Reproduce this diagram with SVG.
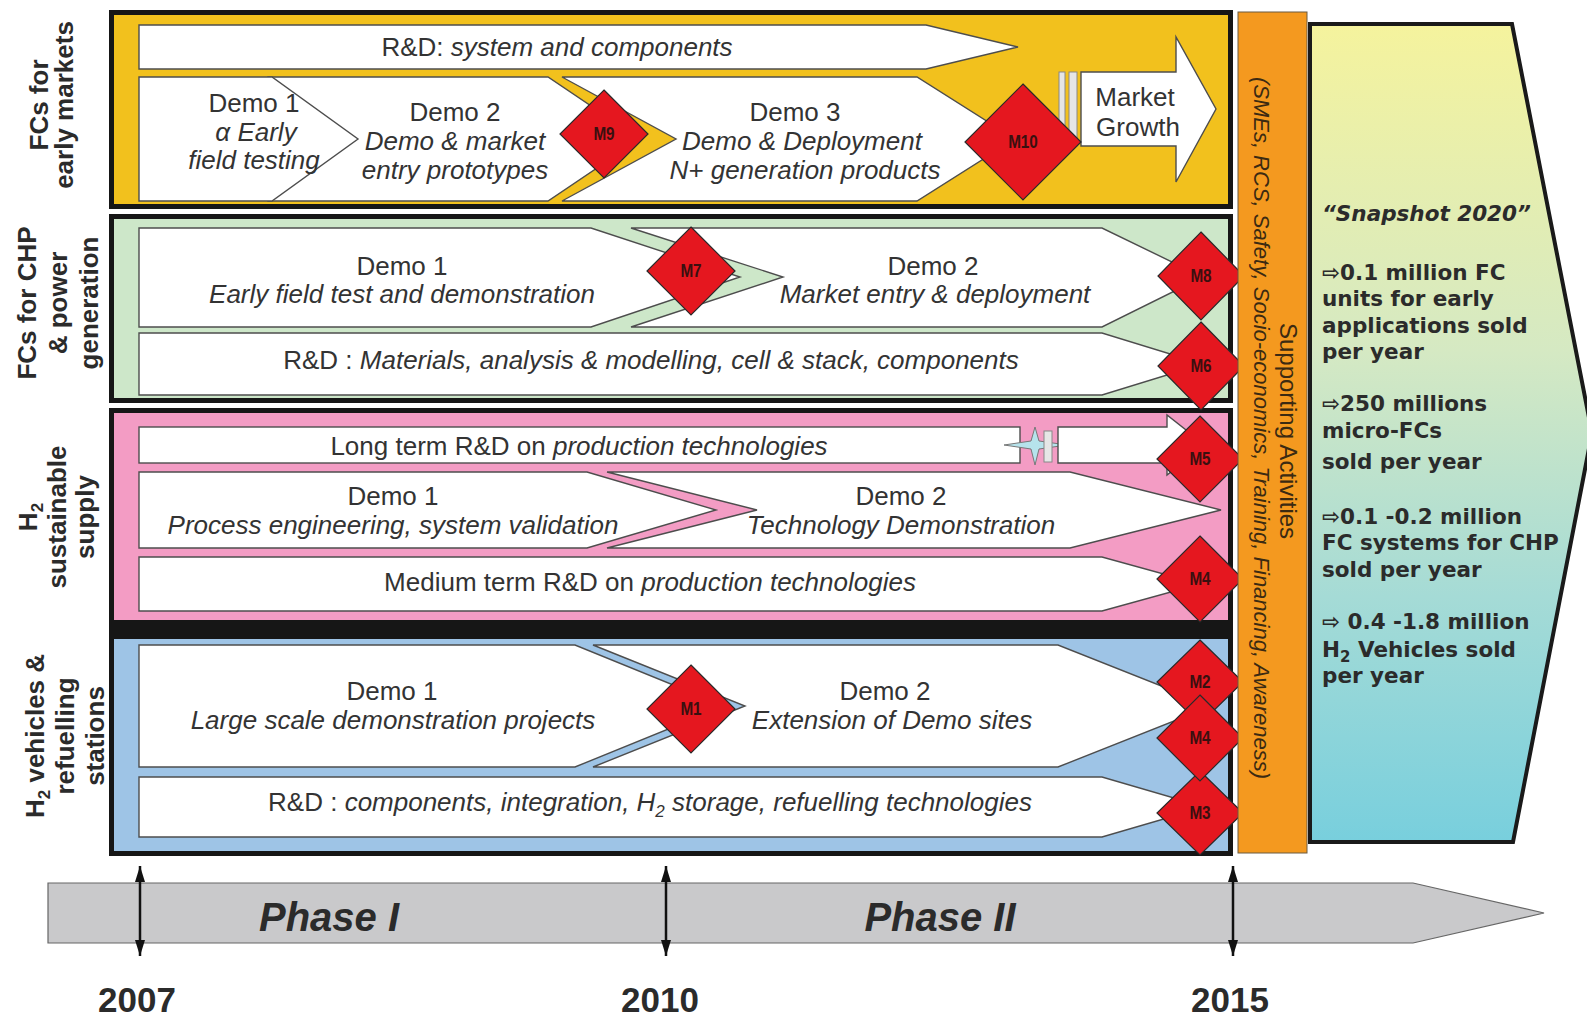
<svg xmlns="http://www.w3.org/2000/svg" width="1587" height="1019" viewBox="0 0 1587 1019">
<defs>
<style>
.frame{stroke:#161616;stroke-width:5}
.py{fill:#f2c11d}
.pg{fill:#cde7c9}
.pp{fill:#f39cc4}
.pb{fill:#9ec4e6}
.w{fill:#fff;stroke:#4d4d4d;stroke-width:1.4}
.d{fill:#e5171f;stroke:#2a2a2a;stroke-width:1.2}
.t{font-family:"Liberation Sans",Arial,sans-serif;font-size:26px;fill:#333;text-anchor:middle}
.i{font-style:italic}
.m{font-family:"Liberation Sans",Arial,sans-serif;font-size:18px;font-weight:bold;fill:#3a1010;text-anchor:middle}
.lab{font-family:"Liberation Sans",Arial,sans-serif;font-size:26px;font-weight:bold;fill:#2b2b2b;text-anchor:middle}
.s{font-family:"DejaVu Sans",Verdana,sans-serif;font-size:21.5px;font-weight:bold;fill:#2b2b2b}
.or{font-family:"Liberation Sans",Arial,sans-serif;fill:#3b2a12;text-anchor:middle}
.yr{font-family:"Liberation Sans",Arial,sans-serif;font-size:35px;font-weight:bold;fill:#2b2b2b;text-anchor:middle}
.ph{font-family:"Liberation Sans",Arial,sans-serif;font-size:40px;font-weight:bold;font-style:italic;fill:#2b2b2b;text-anchor:middle}
.brk{fill:#e6e6e6;stroke:#888;stroke-width:1}
.tl{stroke:#111;stroke-width:2.5;fill:none;marker-start:url(#ah);marker-end:url(#ah)}
</style>
<linearGradient id="snap" x1="0" y1="0" x2="0" y2="1">
<stop offset="0" stop-color="#f5f39d"/>
<stop offset="0.4" stop-color="#d5e9c3"/>
<stop offset="0.7" stop-color="#a5dbd6"/>
<stop offset="1" stop-color="#78cfdd"/>
</linearGradient>
<marker id="ah" viewBox="0 0 16 10" refX="16" refY="5" markerWidth="16" markerHeight="10" markerUnits="userSpaceOnUse" orient="auto-start-reverse">
<path d="M0,0 L16,5 L0,10 z" fill="#111"/>
</marker>
</defs>

<!-- Panel 1: FCs for early markets -->
<g id="panel-early-markets">
<rect class="frame py" x="111.5" y="12.5" width="1119" height="194"/>
<text class="lab" transform="translate(48,105) rotate(-90)">FCs  for</text>
<text class="lab" transform="translate(73,105) rotate(-90)">early markets</text>
<polygon class="w" points="139,25 926,25 1018,47 926,69 139,69"/>
<text class="t" x="557" y="56">R&amp;D: <tspan class="i">system and components</tspan></text>
<polygon class="w" points="268,77 548,77 640,139 548,201 268,201"/>
<polygon class="w" points="139,77 272,77 358,139 272,201 139,201"/>
<polygon class="w" points="562,77 917,77 1015,139 917,201 562,201 676,139"/>
<text class="t" x="254" y="112">Demo 1</text>
<text class="t i" x="256" y="141">α  Early</text>
<text class="t i" x="254" y="169">field testing</text>
<text class="t" x="455" y="121">Demo 2</text>
<text class="t i" x="455" y="150">Demo &amp; market</text>
<text class="t i" x="455" y="179">entry prototypes</text>
<text class="t" x="795" y="121">Demo 3</text>
<text class="t i" x="802" y="150">Demo &amp; Deployment</text>
<text class="t i" x="805" y="179">N+ generation products</text>
<rect class="brk" x="1059" y="72" width="6" height="74"/>
<rect class="brk" x="1069" y="72" width="8" height="74"/>
<polygon class="w" points="1081,72 1176,72 1176,37 1216,109 1176,182 1176,146 1081,146"/>
<text class="t" x="1135" y="106">Market</text>
<text class="t" x="1138" y="136">Growth</text>
</g>
<g id="m9"><polygon class="d" points="604,90 648,134 604,178 560,134"/><text class="m" transform="translate(604,140) scale(0.85,1)">M9</text></g>
<g id="m10"><polygon class="d" points="1023,84 1081,142 1023,200 965,142"/><text class="m" transform="translate(1023,148) scale(0.85,1)">M10</text></g>

<!-- Panel 2: FCs for CHP -->
<g id="panel-chp">
<rect class="frame pg" x="111.5" y="216.5" width="1119" height="184"/>
<text class="lab" transform="translate(36,303) rotate(-90)">FCs  for CHP</text>
<text class="lab" transform="translate(67,303) rotate(-90)">&amp; power</text>
<text class="lab" transform="translate(98,303) rotate(-90)">generation</text>
<polygon class="w" points="631,228 1102,228 1203,277 1102,327 631,327 783,277"/>
<polygon class="w" points="139,228 591,228 740,277 591,327 139,327"/>
<polygon class="w" points="139,333 1102,333 1203,364 1102,395 139,395"/>
<text class="t" x="402" y="275">Demo 1</text>
<text class="t i" x="402" y="303">Early field test and demonstration</text>
<text class="t" x="933" y="275">Demo 2</text>
<text class="t i" x="935" y="303">Market entry &amp; deployment</text>
<text class="t" x="651" y="369">R&amp;D : <tspan class="i">Materials, analysis &amp; modelling, cell &amp; stack, components</tspan></text>
</g>
<g id="m7"><polygon class="d" points="691,227 735,271 691,315 647,271"/><text class="m" transform="translate(691,277) scale(0.85,1)">M7</text></g>

<!-- Panel 3: H2 sustainable supply -->
<g id="panel-h2-supply">
<rect class="frame pp" x="111.5" y="410.5" width="1119" height="212"/>
<text class="lab" transform="translate(37,517) rotate(-90)">H<tspan font-size="17" dy="6">2</tspan></text>
<text class="lab" transform="translate(66,517) rotate(-90)">sustainable</text>
<text class="lab" transform="translate(94,517) rotate(-90)">supply</text>
<rect class="w" x="139" y="427" width="881" height="36"/>
<text class="t" x="579" y="455">Long term R&amp;D on <tspan class="i">production technologies</tspan></text>
<polygon points="1004,445 1031,441 1035,427 1039,441 1067,445 1039,449 1035,465 1031,449" fill="#b6e3ec" stroke="#777" stroke-width="1"/>
<rect class="brk" x="1044" y="431" width="8" height="31"/>
<polygon class="w" points="1058,427 1167,427 1167,415 1205,445 1167,475 1167,463 1058,463"/>
<polygon class="w" points="607,472 1070,472 1221,510 1070,548 607,548 757,510"/>
<polygon class="w" points="139,472 587,472 716,510 587,548 139,548"/>
<polygon class="w" points="139,557 1102,557 1200,584 1102,611 139,611"/>
<text class="t" x="393" y="505">Demo 1</text>
<text class="t i" x="393" y="534">Process engineering, system validation</text>
<text class="t" x="901" y="505">Demo 2</text>
<text class="t i" x="901" y="534">Technology Demonstration</text>
<text class="t" x="650" y="591">Medium term R&amp;D on <tspan class="i">production technologies</tspan></text>
</g>

<rect x="109" y="622" width="1124" height="16" fill="#161616"/>

<!-- Panel 4: H2 vehicles & refuelling stations -->
<g id="panel-h2-vehicles">
<rect class="frame pb" x="111.5" y="636.5" width="1119" height="217"/>
<text class="lab" transform="translate(44,736) rotate(-90)">H<tspan font-size="17" dy="6">2</tspan><tspan dy="-6"> vehicles &amp;</tspan></text>
<text class="lab" transform="translate(74,736) rotate(-90)">refuelling</text>
<text class="lab" transform="translate(104,736) rotate(-90)">stations</text>
<polygon class="w" points="593,645 1058,645 1212,706 1058,767 593,767 745,706"/>
<polygon class="w" points="139,645 575,645 725,706 575,767 139,767"/>
<polygon class="w" points="139,777 1102,777 1205,807 1102,837 139,837"/>
<text class="t" x="392" y="700">Demo 1</text>
<text class="t i" x="393" y="729">Large scale demonstration projects</text>
<text class="t" x="885" y="700">Demo 2</text>
<text class="t i" x="892" y="729">Extension of Demo sites</text>
<text class="t" x="650" y="811">R&amp;D : <tspan class="i">components, integration, H<tspan font-size="17" dy="6">2</tspan><tspan dy="-6"> storage, refuelling technologies</tspan></tspan></text>
</g>
<g id="m1"><polygon class="d" points="691,665 735,709 691,753 647,709"/><text class="m" transform="translate(691,715) scale(0.85,1)">M1</text></g>

<!-- Milestones at 2015 -->
<g id="m8"><polygon class="d" points="1201,232 1244,276 1201,320 1158,276"/><text class="m" transform="translate(1201,282) scale(0.85,1)">M8</text></g>
<g id="m6"><polygon class="d" points="1201,322 1244,366 1201,410 1158,366"/><text class="m" transform="translate(1201,372) scale(0.85,1)">M6</text></g>
<g id="m5"><polygon class="d" points="1200,416 1243,459 1200,502 1157,459"/><text class="m" transform="translate(1200,465) scale(0.85,1)">M5</text></g>
<g id="m4a"><polygon class="d" points="1200,536 1243,579 1200,622 1157,579"/><text class="m" transform="translate(1200,585) scale(0.85,1)">M4</text></g>
<g id="m2"><polygon class="d" points="1200,640 1243,682 1200,724 1157,682"/><text class="m" transform="translate(1200,688) scale(0.85,1)">M2</text></g>
<g id="m3"><polygon class="d" points="1200,771 1243,813 1200,855 1157,813"/><text class="m" transform="translate(1200,819) scale(0.85,1)">M3</text></g>
<g id="m4b"><polygon class="d" points="1200,695 1243,738 1200,781 1157,738"/><text class="m" transform="translate(1200,744) scale(0.85,1)">M4</text></g>

<!-- Supporting activities column -->
<g id="supporting">
<rect x="1238" y="12" width="69" height="841" fill="#f4991f" stroke="#6b5a40" stroke-width="1"/>
<text class="or" font-size="24" transform="translate(1280,431) rotate(90)">Supporting Activities</text>
<text class="or i" font-size="22" transform="translate(1254,428) rotate(90)">(SMEs, RCS, Safety, Socio-economics, Training, Financing, Awareness)</text>
</g>

<!-- Snapshot 2020 -->
<g id="snapshot">
<polygon points="1310,24 1512,24 1592,433 1513,842 1310,842" fill="url(#snap)" stroke="#1a1a1a" stroke-width="4"/>
<text class="s" x="1322" y="221" font-style="italic" font-size="22">“Snapshot 2020”</text>
<text class="s" x="1322" y="280">⇨0.1 million FC</text>
<text class="s" x="1322" y="306">units for early</text>
<text class="s" x="1322" y="333">applications sold</text>
<text class="s" x="1322" y="359">per year</text>
<text class="s" x="1322" y="411">⇨250 millions</text>
<text class="s" x="1322" y="438">micro-FCs</text>
<text class="s" x="1322" y="469">sold per year</text>
<text class="s" x="1322" y="524">⇨0.1 -0.2 million</text>
<text class="s" x="1322" y="550">FC systems for CHP</text>
<text class="s" x="1322" y="577">sold per year</text>
<text class="s" x="1322" y="629">⇨ 0.4 -1.8 million</text>
<text class="s" x="1322" y="657">H<tspan font-size="15" dy="5">2</tspan><tspan dy="-5"> Vehicles sold</tspan></text>
<text class="s" x="1322" y="683">per year</text>
</g>

<!-- Timeline -->
<g id="timeline">
<polygon points="48,883 1413,883 1544,913 1413,943 48,943" fill="#c9c9cb" stroke="#666" stroke-width="1.2"/>
<text class="ph" x="329" y="931">Phase I</text>
<text class="ph" x="940" y="931">Phase II</text>
<text class="yr" x="137" y="1012">2007</text>
<text class="yr" x="660" y="1012">2010</text>
<text class="yr" x="1230" y="1012">2015</text>
</g>
<g id="connectors">
<line class="tl" x1="140" y1="866" x2="140" y2="956"/>
<line class="tl" x1="666" y1="866" x2="666" y2="956"/>
<line class="tl" x1="1233" y1="866" x2="1233" y2="956"/>
</g>
</svg>
